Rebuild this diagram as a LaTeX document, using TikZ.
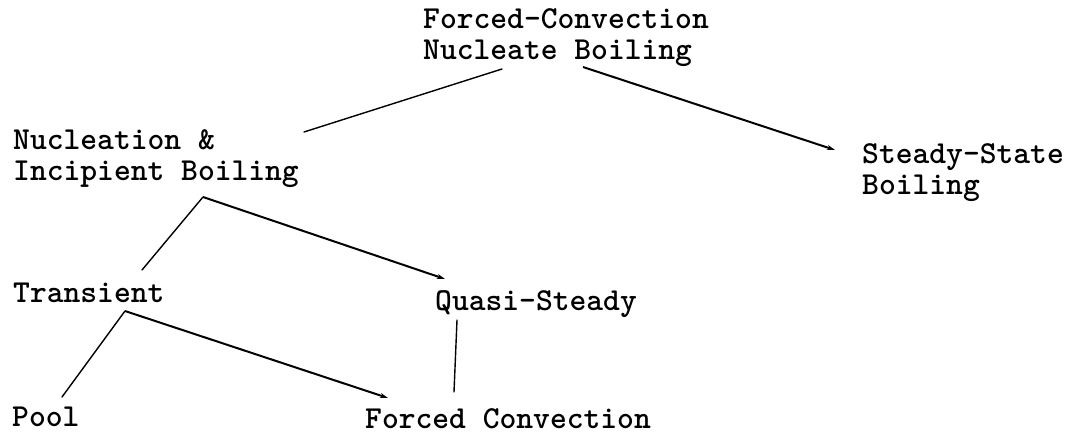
\documentclass[tikz,border=0pt]{standalone}
\usetikzlibrary{positioning,arrows.meta,calc}
\tikzset{
  lbl/.style={font=\ttfamily\bfseries\fontsize{32}{31}\selectfont, inner sep=0pt, align=left, anchor=base west},
  link/.style={line width=1.4pt, line cap=round},
  arrow/.style={-{Stealth[length=8pt, width=5pt]}, line width=2pt}
}
\begin{document}
\begin{tikzpicture}[x=1pt, y=-1pt]
    \useasboundingbox (0,0) rectangle (1076,439);
    \node[lbl] (top) at (423,59) {Forced-Convection\\Nucleate Boiling};
    \node[lbl] (nuc) at (13,180) {Nucleation \&\\Incipient Boiling};
    \node[lbl] (steady) at (862,194) {Steady-State\\Boiling};
    \node[lbl] (trans) at (13,302) {Transient};
    \node[lbl] (quasi) at (435,310) {Quasi-Steady};
    \node[lbl] (pool) at (12,426) {Pool};
    \node[lbl] (forced) at (365,428) {Forced Convection};
    % top level
    \draw[link] ($(top.base west)+(79,10)$) -- ($(nuc.base west)+(291,-48)$);
    \draw[arrow] ($(top.base west)+(160,8)$) -- ($(steady.base west)+(-27,-44)$);
    % nucleation branch
    \draw[link] ($(nuc.base west)+(190,17)$) -- ($(trans.base west)+(129,-32)$);
    \draw[arrow] ($(nuc.base west)+(190,17)$) -- ($(quasi.base west)+(10,-31)$);
    % bottom level
    \draw[link] ($(trans.base west)+(112,9)$) -- ($(pool.base west)+(50,-29)$);
    \draw[arrow] ($(trans.base west)+(112,9)$) -- ($(forced.base west)+(23,-30)$);
    \draw[link] ($(quasi.base west)+(22,10)$) -- ($(forced.base west)+(89,-36)$);
\end{tikzpicture}
\end{document}
